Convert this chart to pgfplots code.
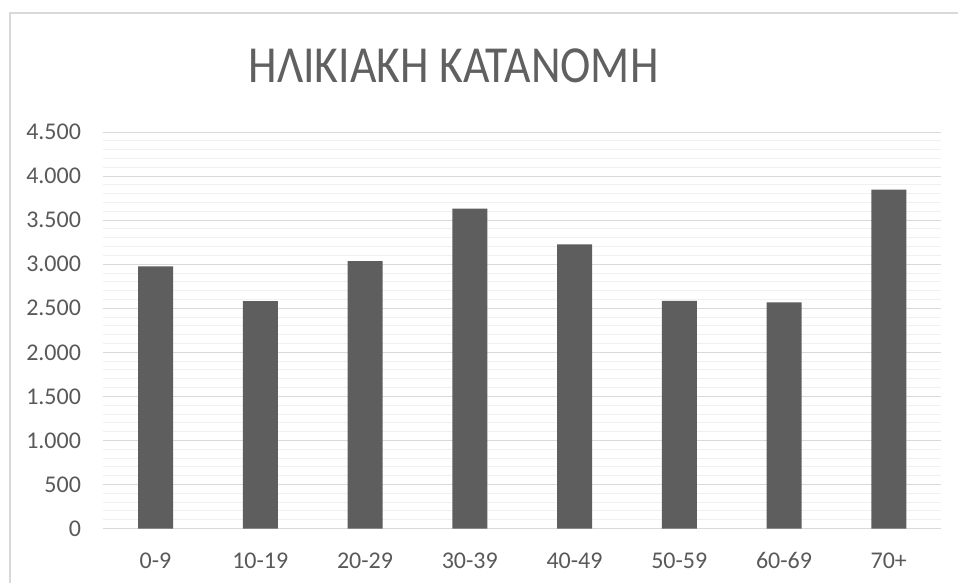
\documentclass[border=0pt]{standalone}
\usepackage{fontspec}
\setmainfont{Carlito}
\newfontfamily\titlefont[FakeStretch=0.88]{Carlito}
\usepackage{pgfplots}
\pgfplotsset{compat=1.18}
\definecolor{txtgray}{HTML}{595959}
\definecolor{titlegray}{HTML}{606060}
\definecolor{bargray}{HTML}{5E5E5E}
\definecolor{majgrid}{HTML}{D9D9D9}
\definecolor{mingrid}{HTML}{F0F0F0}
\definecolor{framegray}{HTML}{D9D9D9}
\begin{document}
\begin{tikzpicture}[x=1pt,y=1pt]
\draw[framegray, line width=2pt] (9.5,-20) -- (9.5,570) -- (990,570);
\node[anchor=base, inner sep=0pt, text=titlegray, font=\titlefont\fontsize{52}{60}\selectfont] at (453.5,500.2) {ΗΛΙΚΙΑΚΗ ΚΑΤΑΝΟΜΗ};
\begin{axis}[
  at={(98.5,61.7)}, anchor=south west,
  scale only axis,
  width=838pt, height=396.6pt,
  ybar, bar width=35pt,
  xmin=-0.5, xmax=7.5,
  ymin=0, ymax=4500,
  xtick={0,1,2,3,4,5,6,7},
  xticklabels={0-9,10-19,20-29,30-39,40-49,50-59,60-69,70+},
  ytick={0,500,1000,1500,2000,2500,3000,3500,4000,4500},
  minor y tick num=4,
  ymajorgrids, yminorgrids,
  major grid style={majgrid, line width=1pt},
  minor grid style={mingrid, line width=1pt},
  major tick length=0pt, minor tick length=0pt,
  axis line style={draw=none},
  tick style={draw=none},
  scaled y ticks=false,
  /pgf/number format/.cd, 1000 sep={.}, assume math mode=true,
  /pgfplots/.cd,
  ticklabel style={text=txtgray, font=\fontsize{24}{28}\selectfont, inner sep=0pt},
  yticklabel style={anchor=east, xshift=-22pt},
  xticklabel style={anchor=base, yshift=-40pt},
]
\addplot[fill=bargray, draw=none] coordinates {
  (0,2976) (1,2580) (2,3036) (3,3631) (4,3226) (5,2583) (6,2567) (7,3847)
};
\end{axis}
\pgfresetboundingbox
\path[use as bounding box] (0,0) rectangle (958,583);
\end{tikzpicture}
\end{document}
